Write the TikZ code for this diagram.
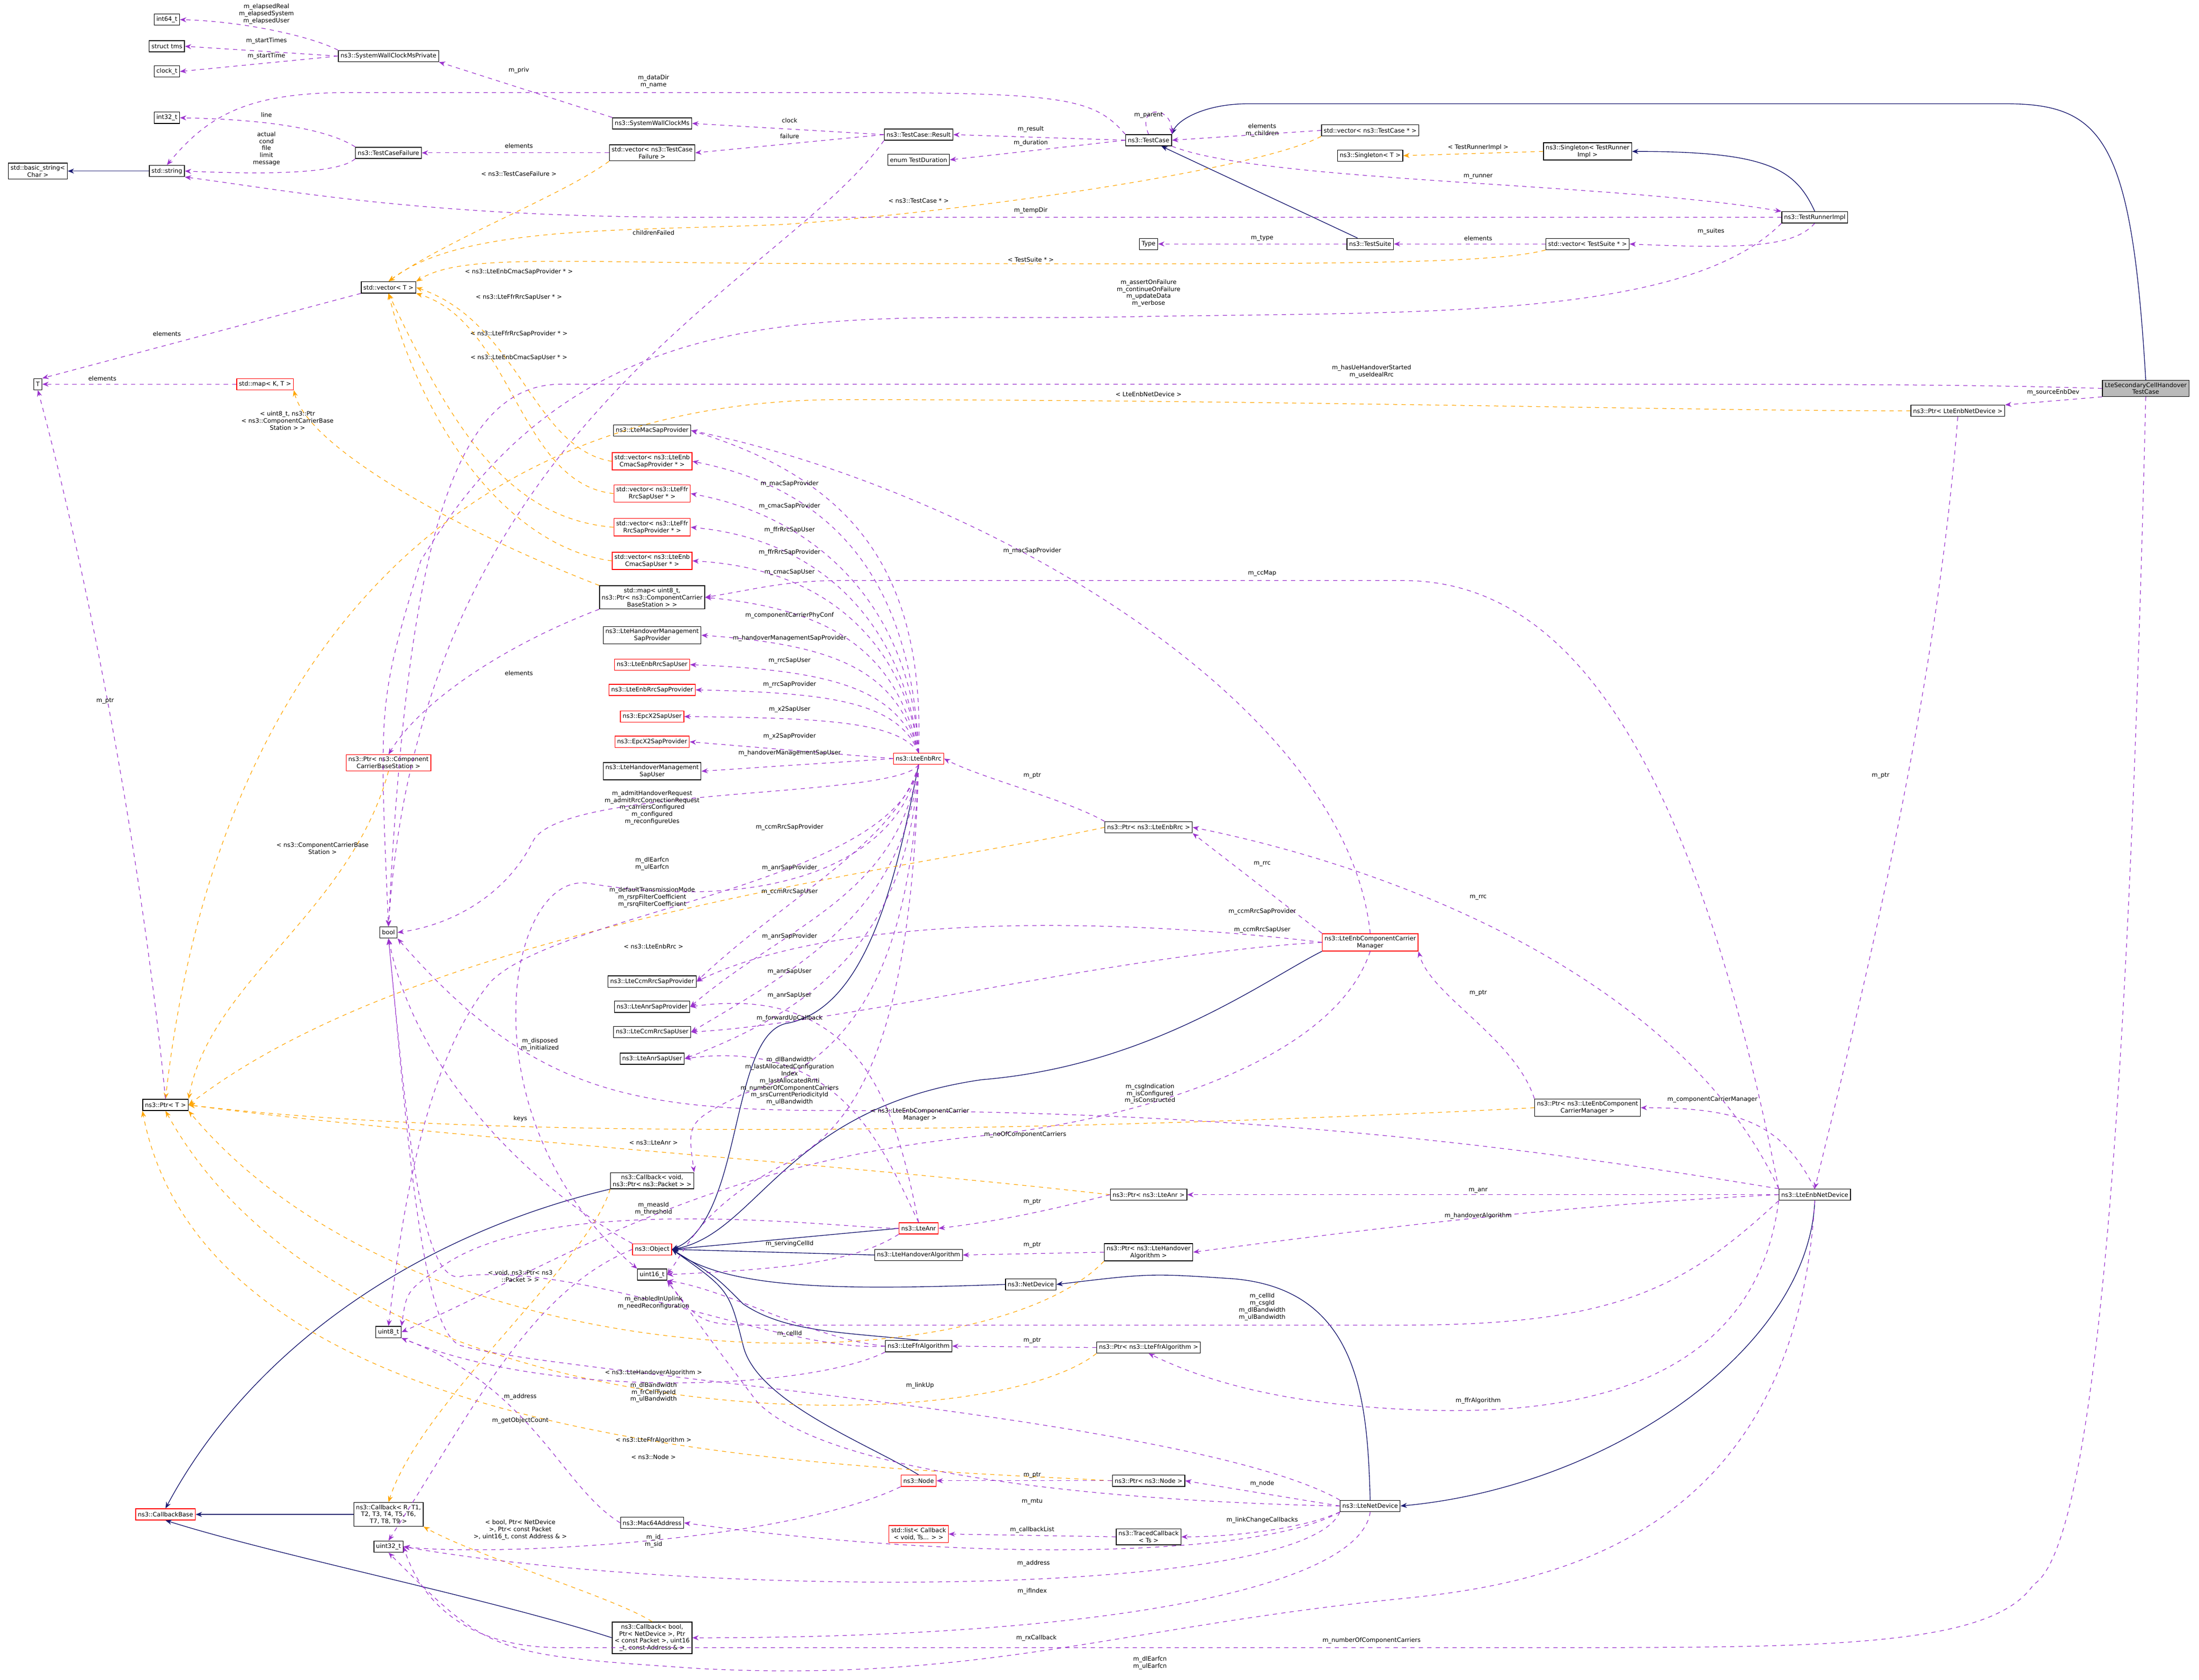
\documentclass[tikz,border=0pt]{standalone}
\usepackage{fontspec}
\setmainfont{DejaVu Sans}
\usetikzlibrary{arrows.meta}
\definecolor{pu}{HTML}{9A32CD}
\definecolor{nv}{HTML}{191970}
\definecolor{og}{HTML}{FFA500}
\tikzset{
 bx/.style={draw=black,fill=white,line width=0.5pt,inner sep=1.6pt,minimum height=8pt,align=center,font=\fontsize{4.3}{5}\selectfont},
 rb/.style={bx,draw=red},
 lb/.style={align=center,inner sep=0pt,font=\fontsize{4.3}{5}\selectfont},
 u/.style={draw=pu,dashed,line width=0.45pt,-{Stealth[length=4.5pt,width=3.5pt]}},
 inh/.style={draw=nv,line width=0.5pt,-{Stealth[length=4.5pt,width=3.5pt]}},
 tp/.style={draw=og,dashed,line width=0.45pt,-{Stealth[length=4.5pt,width=3.5pt]}},
}
\begin{document}
\begin{tikzpicture}[x=1pt,y=-1pt]
\useasboundingbox (0,0) rectangle (1568,1198);
% nodes
\node[bx] (i64) at (119,14) {int64\_t};
\node[bx] (tms) at (119,33) {struct tms};
\node[bx] (clk) at (119,51) {clock\_t};
\node[bx] (swcp) at (277,40) {ns3::SystemWallClockMsPrivate};
\node[bx] (i32) at (119,84) {int32\_t};
\node[bx] (tcf) at (277,109) {ns3::TestCaseFailure};
\node[bx] (bstr) at (27,122) {std::basic\_string\textless\\Char \textgreater};
\node[bx] (str) at (119,122) {std::string};
\node[bx] (swc) at (465,88) {ns3::SystemWallClockMs};
\node[bx] (vtcf) at (465,109) {std::vector\textless{} ns3::TestCase\\Failure \textgreater};
\node[bx] (res) at (655,96) {ns3::TestCase::Result};
\node[bx] (dur) at (655,114) {enum TestDuration};
\node[bx] (tc) at (819,100) {ns3::TestCase};
\node[bx] (vtc) at (977,93) {std::vector\textless{} ns3::TestCase * \textgreater};
\node[bx] (sgt) at (977,111) {ns3::Singleton\textless{} T \textgreater};
\node[bx] (sgr) at (1132,108) {ns3::Singleton\textless{} TestRunner\\Impl \textgreater};
\node[bx] (tri) at (1294,155) {ns3::TestRunnerImpl};
\node[bx] (type) at (819,174) {Type};
\node[bx] (ts) at (977,174) {ns3::TestSuite};
\node[bx] (vts) at (1132,174) {std::vector\textless{} TestSuite * \textgreater};
\node[bx] (vT) at (277,205) {std::vector\textless{} T \textgreater};
\node[bx] (T) at (27,274) {T};
\node[rb] (mKT) at (189,274) {std::map\textless{} K, T \textgreater};
\node[bx,fill=black!27] (sec) at (1530,277) {LteSecondaryCellHandover\\TestCase};
\node[bx] (pend) at (1396,293) {ns3::Ptr\textless{} LteEnbNetDevice \textgreater};
\node[bx] (mac) at (465,307) {ns3::LteMacSapProvider};
\node[rb] (vcp) at (465,329) {std::vector\textless{} ns3::LteEnb\\CmacSapProvider * \textgreater};
\node[rb] (vfu) at (465,352) {std::vector\textless{} ns3::LteFfr\\RrcSapUser * \textgreater};
\node[rb] (vfp) at (465,376) {std::vector\textless{} ns3::LteFfr\\RrcSapProvider * \textgreater};
\node[rb] (vcu) at (465,400) {std::vector\textless{} ns3::LteEnb\\CmacSapUser * \textgreater};
\node[bx] (mccb) at (465,426) {std::map\textless{} uint8\_t,\\ ns3::Ptr\textless{} ns3::ComponentCarrier\\BaseStation \textgreater{} \textgreater};
\node[bx] (hmp) at (465,453) {ns3::LteHandoverManagement\\SapProvider};
\node[rb] (ersu) at (465,474) {ns3::LteEnbRrcSapUser};
\node[rb] (ersp) at (465,492) {ns3::LteEnbRrcSapProvider};
\node[rb] (x2u) at (465,511) {ns3::EpcX2SapUser};
\node[rb] (x2p) at (465,529) {ns3::EpcX2SapProvider};
\node[bx] (hmu) at (465,550) {ns3::LteHandoverManagement\\SapUser};
\node[rb] (rrc) at (655,541) {ns3::LteEnbRrc};
\node[rb] (pccb) at (277,544) {ns3::Ptr\textless{} ns3::Component\\CarrierBaseStation \textgreater};
\node[bx] (prrc) at (819,590) {ns3::Ptr\textless{} ns3::LteEnbRrc \textgreater};
\node[bx] (bool) at (277,665) {bool};
\node[rb] (ccm) at (977,672) {ns3::LteEnbComponentCarrier\\Manager};
\node[bx] (ccp) at (465,700) {ns3::LteCcmRrcSapProvider};
\node[bx] (asp) at (465,718) {ns3::LteAnrSapProvider};
\node[bx] (ccu) at (465,736) {ns3::LteCcmRrcSapUser};
\node[bx] (asu) at (465,755) {ns3::LteAnrSapUser};
\node[bx] (pT) at (118,788) {ns3::Ptr\textless{} T \textgreater};
\node[bx] (pccm) at (1132,790) {ns3::Ptr\textless{} ns3::LteEnbComponent\\CarrierManager \textgreater};
\node[bx] (cbv) at (465,842) {ns3::Callback\textless{} void,\\ ns3::Ptr\textless{} ns3::Packet \textgreater{} \textgreater};
\node[bx] (panr) at (819,852) {ns3::Ptr\textless{} ns3::LteAnr \textgreater};
\node[bx] (end) at (1294,852) {ns3::LteEnbNetDevice};
\node[rb] (anr) at (655,876) {ns3::LteAnr};
\node[rb] (obj) at (465,891) {ns3::Object};
\node[bx] (hoa) at (655,895) {ns3::LteHandoverAlgorithm};
\node[bx] (phoa) at (819,893) {ns3::Ptr\textless{} ns3::LteHandover\\Algorithm \textgreater};
\node[bx] (u16) at (465,909) {uint16\_t};
\node[bx] (nd) at (735,916) {ns3::NetDevice};
\node[bx] (u8) at (277,950) {uint8\_t};
\node[bx] (ffr) at (655,960) {ns3::LteFfrAlgorithm};
\node[bx] (pffr) at (819,961) {ns3::Ptr\textless{} ns3::LteFfrAlgorithm \textgreater};
\node[rb] (cbb) at (118,1080) {ns3::CallbackBase};
\node[bx] (cbr) at (277,1080) {ns3::Callback\textless{} R, T1,\\ T2, T3, T4, T5, T6,\\ T7, T8, T9 \textgreater};
\node[rb] (node) at (655,1056) {ns3::Node};
\node[bx] (pnode) at (819,1056) {ns3::Ptr\textless{} ns3::Node \textgreater};
\node[bx] (mac64) at (465,1086) {ns3::Mac64Address};
\node[bx] (lnd) at (977,1074) {ns3::LteNetDevice};
\node[rb] (lst) at (655,1094) {std::list\textless{} Callback\\\textless{} void, Ts... \textgreater{} \textgreater};
\node[bx] (tcb) at (819,1096) {ns3::TracedCallback\\\textless{} Ts \textgreater};
\node[bx] (u32) at (277,1103) {uint32\_t};
\node[bx] (cbo) at (465,1168) {ns3::Callback\textless{} bool,\\ Ptr\textless{} NetDevice \textgreater, Ptr\\\textless{} const Packet \textgreater, uint16\\\_t, const Address \& \textgreater};

% inheritance
\draw[inh] (str) -- (bstr);
\draw[inh] (ts) -- (tc);
\draw[inh] (sec.north) .. controls (1520,100) and (1500,74) .. (1430,74) -- (890,74) .. controls (860,74) and (840,85) .. (tc.north east);
\draw[inh] (tri.north) .. controls (1280,120) and (1260,108) .. (sgr.east);
\draw[inh] (rrc.south) .. controls (640,620) and (620,720) .. (560,730) .. controls (520,740) and (530,870) .. (obj.east);
\draw[inh] (ccm.south west) .. controls (900,700) and (820,760) .. (700,770) .. controls (560,790) and (540,880) .. (obj.east);
\draw[inh] (anr.west) -- (obj.east);
\draw[inh] (hoa.west) -- (obj.east);
\draw[inh] (nd.west) .. controls (600,920) and (520,920) .. (obj.east);
\draw[inh] (ffr.north) .. controls (600,950) and (560,950) .. (530,930) .. controls (510,910) .. (obj.east);
\draw[inh] (node.north) .. controls (620,1030) and (540,1000) .. (530,960) .. controls (520,920) .. (obj.east);
\draw[inh] (end.south) .. controls (1290,960) and (1150,1060) .. (lnd.east);
\draw[inh] (lnd.north) .. controls (975,1000) and (970,920) .. (880,912) .. controls (820,908) .. (nd.east);
\draw[inh] (cbv.south west) .. controls (300,880) and (180,960) .. (cbb.north);
\draw[inh] (cbr) -- (cbb);
\draw[inh] (cbo.west) .. controls (350,1140) and (200,1110) .. (cbb.south);

% template instantiation
\draw[tp] (vtcf.south west) .. controls (400,140) and (320,170) .. (vT.north);
\draw[tp] (vtc.south west) .. controls (900,120) and (700,150) .. (560,160) .. controls (450,165) and (330,160) .. (vT.north);
\draw[tp] (vts.south west) .. controls (1060,190) and (900,188) .. (600,188) .. controls (400,188) and (330,180) .. (vT.north east);
\draw[tp] (sgr.west) -- (sgt.east);
\draw[tp] (vcp.west) .. controls (380,320) and (370,230) .. (vT.east);
\draw[tp] (vfu.west) .. controls (370,345) and (365,230) .. (vT.south east);
\draw[tp] (vfp.west) .. controls (360,370) and (320,300) .. (vT.south);
\draw[tp] (vcu.west) .. controls (360,390) and (300,300) .. (vT.south);
\draw[tp] (mccb.north west) .. controls (330,380) and (220,320) .. (mKT.south east);
\draw[tp] (pccb.south) .. controls (250,650) and (150,700) .. (pT.north east);
\draw[tp] (pend.west) .. controls (1200,293) and (900,285) .. (600,285) .. controls (300,285) and (150,500) .. (pT.north);
\draw[tp] (prrc.west) .. controls (650,620) and (300,660) .. (pT.east);
\draw[tp] (pccm.west) .. controls (900,800) and (400,820) .. (pT.east);
\draw[tp] (panr.west) .. controls (600,830) and (300,810) .. (pT.east);
\draw[tp] (phoa.south west) .. controls (700,990) and (300,990) .. (pT.south east);
\draw[tp] (pffr.south west) .. controls (700,1030) and (250,1030) .. (pT.south);
\draw[tp] (pnode.west) .. controls (600,1045) and (150,1040) .. (pT.south west);
\draw[tp] (cbv.south west) .. controls (420,900) and (300,1000) .. (cbr.north);
\draw[tp] (cbo.north) .. controls (440,1140) and (340,1110) .. (cbr.south east);

% usage
\draw[u] (swcp.north west) .. controls (220,25) and (170,15) .. (i64.east);
\draw[u] (swcp.west) -- (tms.east);
\draw[u] (swcp.west) -- (clk.east);
\draw[u] (swc.north west) -- (swcp.south east);
\draw[u] (tc.north west) .. controls (780,70) and (760,66) .. (600,66) -- (250,66) .. controls (180,66) and (150,80) .. (str.north);
\draw[u] (tcf.north west) .. controls (230,90) and (180,85) .. (i32.east);
\draw[u] (tcf.south west) .. controls (240,125) and (180,124) .. (str.east);
\draw[u] (vtcf.west) -- (tcf.east);
\draw[u] (res.west) -- (swc.east);
\draw[u] (res.west) -- (vtcf.east);
\draw[u] (tc.west) -- (res.east);
\draw[u] (tc.west) -- (dur.east);
\draw[u] (tc.north) .. controls (810,75) and (835,75) .. (tc.north east);
\draw[u] (vtc.west) -- (tc.east);
\draw[u] (tc.south east) .. controls (900,130) and (1150,130) .. (tri.north west);
\draw[u] (tri.west) .. controls (1100,155) and (700,155) .. (500,155) .. controls (300,155) and (200,135) .. (str.south east);
\draw[u] (tri.south) .. controls (1280,175) and (1250,178) .. (vts.east);
\draw[u] (vts.west) -- (ts.east);
\draw[u] (ts.west) -- (type.east);
\draw[u] (tri.south west) .. controls (1200,230) and (1000,222) .. (800,226) .. controls (600,230) and (420,200) .. (300,400) .. controls (270,500) .. (bool.north);
\draw[u] (res.south west) .. controls (560,200) and (300,300) .. (bool.north);
\draw[u] (vT.south west) -- (T.north east);
\draw[u] (mKT.west) -- (T.east);
\draw[u] (sec.west) .. controls (1400,274) and (1300,274) .. (1100,274) -- (400,274) .. controls (320,274) and (290,400) .. (bool.north);
\draw[u] (sec.south west) -- (pend.north east);
\draw[u] (sec.south) .. controls (1520,700) and (1500,1100) .. (1450,1130) .. controls (1420,1175) and (1300,1175) .. (1100,1175) -- (400,1175) .. controls (330,1175) and (300,1140) .. (u32.east);
\draw[u] (pT.north) .. controls (100,600) and (60,400) .. (T.south);
\draw[u] (mccb.south west) .. controls (360,460) and (300,500) .. (pccb.north);
% LteEnbRrc
\draw[u] (rrc.north) .. controls (660,400) and (600,340) .. (mac.east);
\draw[u] (rrc.north) .. controls (650,420) and (600,350) .. (vcp.east);
\draw[u] (rrc.north) .. controls (650,440) and (590,370) .. (vfu.east);
\draw[u] (rrc.north) .. controls (645,450) and (590,385) .. (vfp.east);
\draw[u] (rrc.north) .. controls (645,460) and (590,405) .. (vcu.east);
\draw[u] (rrc.north) .. controls (640,470) and (600,435) .. (mccb.east);
\draw[u] (rrc.north) .. controls (640,480) and (600,460) .. (hmp.east);
\draw[u] (rrc.north) .. controls (640,490) and (590,478) .. (ersu.east);
\draw[u] (rrc.north) .. controls (640,500) and (590,494) .. (ersp.east);
\draw[u] (rrc.north) .. controls (640,515) and (590,512) .. (x2u.east);
\draw[u] (rrc.west) -- (x2p.east);
\draw[u] (rrc.west) -- (hmu.east);
\draw[u] (rrc.south) .. controls (640,570) and (400,560) .. (380,600) .. controls (360,640) and (320,660) .. (bool.east);
\draw[u] (rrc.south) .. controls (640,600) and (560,640) .. (ccp.east);
\draw[u] (rrc.south) .. controls (640,620) and (540,650) .. (420,630) .. controls (360,620) and (330,800) .. (u16.north west);
\draw[u] (rrc.south) .. controls (640,630) and (400,650) .. (350,700) .. controls (300,760) and (285,880) .. (u8.north);
\draw[u] (rrc.south) .. controls (640,640) and (560,660) .. (asp.east);
\draw[u] (rrc.south) .. controls (645,650) and (570,690) .. (ccu.east);
\draw[u] (rrc.south) .. controls (648,670) and (580,720) .. (asu.east);
\draw[u] (rrc.south) .. controls (650,700) and (600,760) .. (530,780) .. controls (490,800) .. (cbv.north east);
\draw[u] (rrc.south) .. controls (650,720) and (620,800) .. (560,830) .. controls (500,860) and (490,890) .. (u16.east);
\draw[u] (prrc.north west) .. controls (760,570) and (700,555) .. (rrc.east);
% CCM
\draw[u] (ccm.north) .. controls (960,500) and (700,350) .. (mac.east);
\draw[u] (ccm.north west) -- (prrc.south east);
\draw[u] (ccm.west) .. controls (800,655) and (600,650) .. (ccp.east);
\draw[u] (ccm.west) .. controls (800,680) and (600,730) .. (ccu.east);
\draw[u] (ccm.south) .. controls (950,760) and (800,800) .. (700,810) .. controls (500,830) and (400,900) .. (u8.east);
\draw[u] (pccm.north west) .. controls (1080,740) and (1020,710) .. (ccm.south east);
\draw[u] (end.north) .. controls (1270,800) and (1240,790) .. (pccm.east);
\draw[u] (end.north west) .. controls (1200,500) and (1100,414) .. (1000,414) -- (600,414) .. controls (560,414) and (540,420) .. (mccb.east);
\draw[u] (end.north west) .. controls (1200,700) and (1000,620) .. (prrc.east);
\draw[u] (end.north west) .. controls (1100,820) and (900,792) .. (600,792) .. controls (450,792) and (380,780) .. (bool.south east);
\draw[u] (end.west) -- (panr.east);
\draw[u] (end.west) .. controls (1100,860) and (950,880) .. (phoa.east);
\draw[u] (end.south west) .. controls (1200,920) and (1150,945) .. (1000,945) -- (550,945) .. controls (500,945) .. (u16.south east);
\draw[u] (end.south west) .. controls (1250,1000) and (1100,1010) .. (1000,1005) .. controls (900,1000) and (850,980) .. (pffr.south);
\draw[u] (end.south) .. controls (1280,1100) and (1100,1130) .. (1000,1140) .. controls (800,1160) and (700,1200) .. (500,1190) .. controls (350,1180) .. (u32.south);
\draw[u] (pend.south) .. controls (1380,500) and (1330,700) .. (end.north);
\draw[u] (panr.west) .. controls (760,860) and (720,870) .. (anr.east);
\draw[u] (anr.west) .. controls (600,876) and (400,850) .. (320,900) .. controls (290,920) .. (u8.north east);
\draw[u] (anr.south west) .. controls (610,900) and (560,905) .. (u16.east);
\draw[u] (anr.north) .. controls (640,800) and (620,700) .. (asp.east);
\draw[u] (anr.north) .. controls (630,820) and (600,740) .. (asu.east);
\draw[u] (phoa.west) -- (hoa.east);
\draw[u] (ffr.west) .. controls (560,965) and (420,900) .. (330,910) .. controls (300,920) and (290,800) .. (bool.south);
\draw[u] (ffr.west) .. controls (580,955) and (520,920) .. (u16.south east);
\draw[u] (ffr.south west) .. controls (580,990) and (400,1000) .. (u8.south east);
\draw[u] (pffr.west) -- (ffr.east);
\draw[u] (obj.north west) .. controls (400,860) and (300,780) .. (bool.south);
\draw[u] (obj.west) .. controls (380,920) and (340,1000) .. (u32.north);
\draw[u] (node.south west) .. controls (560,1100) and (350,1110) .. (u32.east);
\draw[u] (pnode.west) -- (node.east);
\draw[u] (lnd.west) -- (pnode.east);
\draw[u] (lnd.north west) .. controls (850,1010) and (400,980) .. (330,960) .. controls (300,955) and (290,800) .. (bool.south);
\draw[u] (lnd.west) .. controls (850,1072) and (600,1060) .. (540,1000) .. controls (510,960) .. (u16.south east);
\draw[u] (lnd.south west) .. controls (930,1090) and (880,1096) .. (tcb.east);
\draw[u] (tcb.west) -- (lst.east);
\draw[u] (lnd.south west) .. controls (900,1110) and (700,1115) .. (mac64.east);
\draw[u] (mac64.west) .. controls (400,1060) and (380,990) .. (u8.south east);
\draw[u] (lnd.south west) .. controls (930,1140) and (500,1140) .. (u32.east);
\draw[u] (lnd.south) .. controls (970,1130) and (800,1168) .. (cbo.east);

% labels
\node[lb] at (190,10) {m\_elapsedReal\\m\_elapsedSystem\\m\_elapsedUser};
\node[lb] at (190,29) {m\_startTimes};
\node[lb] at (190,40) {m\_startTime};
\node[lb] at (370,50) {m\_priv};
\node[lb] at (466,58) {m\_dataDir\\m\_name};
\node[lb] at (190,82) {line};
\node[lb] at (190,106) {actual\\cond\\file\\limit\\message};
\node[lb] at (370,104) {elements};
\node[lb] at (563,86) {clock};
\node[lb] at (563,97) {failure};
\node[lb] at (735,92) {m\_result};
\node[lb] at (735,102) {m\_duration};
\node[lb] at (819,82) {m\_parent};
\node[lb] at (900,93) {elements\\m\_children};
\node[lb] at (1054,105) {\textless{} TestRunnerImpl \textgreater};
\node[lb] at (1054,126) {m\_runner};
\node[lb] at (655,143) {\textless{} ns3::TestCase * \textgreater};
\node[lb] at (735,150) {m\_tempDir};
\node[lb] at (1220,165) {m\_suites};
\node[lb] at (1054,170) {elements};
\node[lb] at (900,170) {m\_type};
\node[lb] at (735,185) {\textless{} TestSuite * \textgreater};
\node[lb] at (819,209) {m\_assertOnFailure\\m\_continueOnFailure\\m\_updateData\\m\_verbose};
\node[lb] at (370,124) {\textless{} ns3::TestCaseFailure \textgreater};
\node[lb] at (466,166) {childrenFailed};
\node[lb] at (370,194) {\textless{} ns3::LteEnbCmacSapProvider * \textgreater};
\node[lb] at (370,212) {\textless{} ns3::LteFfrRrcSapUser * \textgreater};
\node[lb] at (370,238) {\textless{} ns3::LteFfrRrcSapProvider * \textgreater};
\node[lb] at (370,255) {\textless{} ns3::LteEnbCmacSapUser * \textgreater};
\node[lb] at (119,238) {elements};
\node[lb] at (73,270) {elements};
\node[lb] at (978,265) {m\_hasUeHandoverStarted\\m\_useIdealRrc};
\node[lb] at (819,281) {\textless{} LteEnbNetDevice \textgreater};
\node[lb] at (1464,280) {m\_sourceEnbDev};
\node[lb] at (205,300) {\textless{} uint8\_t, ns3::Ptr\\\textless{} ns3::ComponentCarrierBase\\Station \textgreater{} \textgreater};
\node[lb] at (370,480) {elements};
\node[lb] at (230,605) {\textless{} ns3::ComponentCarrierBase\\Station \textgreater};
\node[lb] at (75,500) {m\_ptr};
\node[lb] at (563,345) {m\_macSapProvider};
\node[lb] at (563,361) {m\_cmacSapProvider};
\node[lb] at (563,378) {m\_ffrRrcSapUser};
\node[lb] at (563,394) {m\_ffrRrcSapProvider};
\node[lb] at (563,408) {m\_cmacSapUser};
\node[lb] at (563,439) {m\_componentCarrierPhyConf};
\node[lb] at (563,455) {m\_handoverManagementSapProvider};
\node[lb] at (563,471) {m\_rrcSapUser};
\node[lb] at (563,488) {m\_rrcSapProvider};
\node[lb] at (563,506) {m\_x2SapUser};
\node[lb] at (563,525) {m\_x2SapProvider};
\node[lb] at (563,537) {m\_handoverManagementSapUser};
\node[lb] at (465,576) {m\_admitHandoverRequest\\m\_admitRrcConnectionRequest\\m\_carriersConfigured\\m\_configured\\m\_reconfigureUes};
\node[lb] at (563,590) {m\_ccmRrcSapProvider};
\node[lb] at (465,616) {m\_dlEarfcn\\m\_ulEarfcn};
\node[lb] at (563,619) {m\_anrSapProvider};
\node[lb] at (465,640) {m\_defaultTransmissionMode\\m\_rsrpFilterCoefficient\\m\_rsrqFilterCoefficient};
\node[lb] at (563,636) {m\_ccmRrcSapUser};
\node[lb] at (736,393) {m\_macSapProvider};
\node[lb] at (736,553) {m\_ptr};
\node[lb] at (900,409) {m\_ccMap};
\node[lb] at (900,616) {m\_rrc};
\node[lb] at (1054,640) {m\_rrc};
\node[lb] at (1341,553) {m\_ptr};
\node[lb] at (1054,708) {m\_ptr};
\node[lb] at (900,650) {m\_ccmRrcSapProvider};
\node[lb] at (900,663) {m\_ccmRrcSapUser};
\node[lb] at (466,675) {\textless{} ns3::LteEnbRrc \textgreater};
\node[lb] at (563,668) {m\_anrSapProvider};
\node[lb] at (563,693) {m\_anrSapUser};
\node[lb] at (563,710) {m\_anrSapUser};
\node[lb] at (563,726) {m\_forwardUpCallback};
\node[lb] at (563,771) {m\_dlBandwidth\\m\_lastAllocatedConfiguration\\Index\\m\_lastAllocatedRnti\\m\_numberOfComponentCarriers\\m\_srsCurrentPeriodicityId\\m\_ulBandwidth};
\node[lb] at (656,795) {\textless{} ns3::LteEnbComponentCarrier\\Manager \textgreater};
\node[lb] at (820,780) {m\_csgIndication\\m\_isConfigured\\m\_isConstructed};
\node[lb] at (1221,784) {m\_componentCarrierManager};
\node[lb] at (731,809) {m\_noOfComponentCarriers};
\node[lb] at (371,798) {keys};
\node[lb] at (466,815) {\textless{} ns3::LteAnr \textgreater};
\node[lb] at (466,862) {m\_measId\\m\_threshold};
\node[lb] at (385,745) {m\_disposed\\m\_initialized};
\node[lb] at (736,857) {m\_ptr};
\node[lb] at (1054,849) {m\_anr};
\node[lb] at (1054,867) {m\_handoverAlgorithm};
\node[lb] at (563,887) {m\_servingCellId};
\node[lb] at (736,888) {m\_ptr};
\node[lb] at (371,910) {\textless{} void, ns3::Ptr\textless{} ns3\\::Packet \textgreater{} \textgreater};
\node[lb] at (466,929) {m\_enabledInUplink\\m\_needReconfiguration};
\node[lb] at (900,932) {m\_cellId\\m\_csgId\\m\_dlBandwidth\\m\_ulBandwidth};
\node[lb] at (563,951) {m\_cellId};
\node[lb] at (736,956) {m\_ptr};
\node[lb] at (466,979) {\textless{} ns3::LteHandoverAlgorithm \textgreater};
\node[lb] at (466,993) {m\_dlBandwidth\\m\_frCellTypeId\\m\_ulBandwidth};
\node[lb] at (656,988) {m\_linkUp};
\node[lb] at (1054,999) {m\_ffrAlgorithm};
\node[lb] at (371,996) {m\_address};
\node[lb] at (371,1013) {m\_getObjectCount};
\node[lb] at (466,1027) {\textless{} ns3::LteFfrAlgorithm \textgreater};
\node[lb] at (466,1039) {\textless{} ns3::Node \textgreater};
\node[lb] at (736,1052) {m\_ptr};
\node[lb] at (900,1058) {m\_node};
\node[lb] at (736,1071) {m\_mtu};
\node[lb] at (900,1084) {m\_linkChangeCallbacks};
\node[lb] at (736,1091) {m\_callbackList};
\node[lb] at (371,1091) {\textless{} bool, Ptr\textless{} NetDevice\\\textgreater, Ptr\textless{} const Packet\\\textgreater, uint16\_t, const Address \& \textgreater};
\node[lb] at (466,1099) {m\_id\\m\_sid};
\node[lb] at (737,1115) {m\_address};
\node[lb] at (736,1135) {m\_ifIndex};
\node[lb] at (739,1168) {m\_rxCallback};
\node[lb] at (978,1170) {m\_numberOfComponentCarriers};
\node[lb] at (820,1186) {m\_dlEarfcn\\m\_ulEarfcn};
\end{tikzpicture}
\end{document}
